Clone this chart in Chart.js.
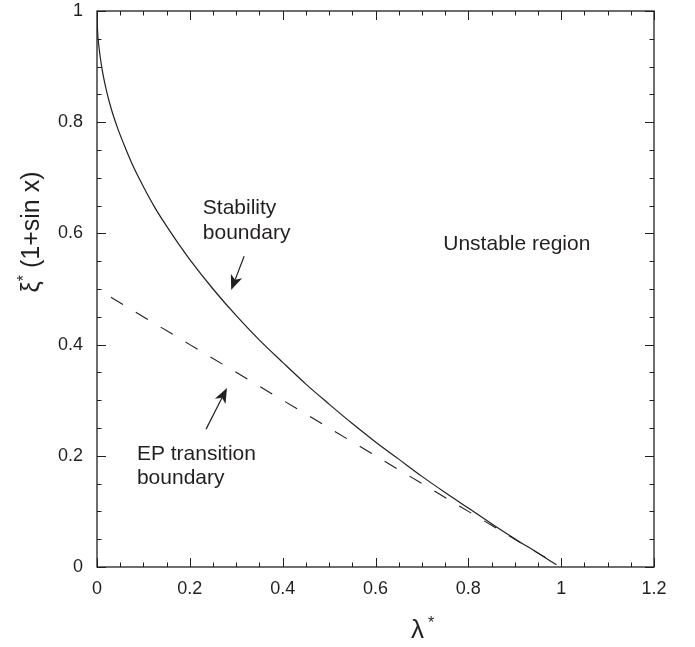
<!DOCTYPE html>
<html>
<head>
<meta charset="utf-8">
<script src="https://cdn.jsdelivr.net/npm/chart.js@4.4.0/dist/chart.umd.min.js"></script>
<style>
  body { margin: 0; background: #fff; }
  canvas { display: block; }
</style>
</head>
<body>
<canvas id="phaseChart" width="695" height="647"></canvas>
<script>
// values
let stabLambda = [0, 0.001, 0.004, 0.01, 0.02, 0.03, 0.045, 0.06, 0.08, 0.1, 0.125, 0.15, 0.175, 0.2, 0.25, 0.3, 0.35, 0.4, 0.45, 0.5, 0.55, 0.6, 0.65, 0.7, 0.75, 0.8, 0.85, 0.9, 0.95, 0.99];
let stabXi     = [1, 0.968, 0.937, 0.90, 0.858, 0.826, 0.788, 0.756, 0.717, 0.684, 0.646, 0.613, 0.582, 0.553, 0.50, 0.452, 0.408, 0.368, 0.329, 0.293, 0.258, 0.225, 0.194, 0.163, 0.134, 0.106, 0.078, 0.051, 0.025, 0.004];
let epLambda = [0.03, 0.2, 0.4, 0.6, 0.8, 0.99];
let epXi     = [0.485, 0.40, 0.30, 0.20, 0.10, 0.005];
let xTickLabels = ['0', '0.2', '0.4', '0.6', '0.8', '1', '1.2'];
let yTickLabels = ['0', '0.2', '0.4', '0.6', '0.8', '1'];

let ink = '#231f20';
let fontFam = '"Liberation Sans", Arial, sans-serif';

function toPoints(xs, ys) {
    let pts = [];
    for (let i = 0; i < xs.length; i++) {
        pts.push({x: xs[i], y: ys[i]});
    }
    return pts;
}

// frame, inward ticks on all sides, annotations and axis titles
let extras = {
    id: 'extras',
    afterDatasetsDraw(chart) {
        let ctx = chart.ctx;
        let a = chart.chartArea;
        let xs = chart.scales.x;
        let ys = chart.scales.y;
        ctx.save();
        ctx.strokeStyle = ink;
        ctx.lineWidth = 1.3;
        ctx.strokeRect(a.left, a.top, a.right - a.left, a.bottom - a.top);

        ctx.lineWidth = 1;
        ctx.beginPath();
        for (let i = 0; i <= 24; i++) {
            let px = Math.round(xs.getPixelForValue(i * 0.05)) + 0.5;
            let len = (i % 4 === 0) ? 9 : 4.5;
            ctx.moveTo(px, a.bottom); ctx.lineTo(px, a.bottom - len);
            ctx.moveTo(px, a.top); ctx.lineTo(px, a.top + len);
        }
        for (let i = 0; i <= 20; i++) {
            let py = Math.round(ys.getPixelForValue(i * 0.05)) + 0.5;
            let len = (i % 4 === 0) ? 9 : 4.5;
            ctx.moveTo(a.left, py); ctx.lineTo(a.left + len, py);
            ctx.moveTo(a.right, py); ctx.lineTo(a.right - len, py);
        }
        ctx.stroke();

        // arrows
        function arrow(x1, y1, x2, y2) {
            let p1x = xs.getPixelForValue(x1), p1y = ys.getPixelForValue(y1);
            let p2x = xs.getPixelForValue(x2), p2y = ys.getPixelForValue(y2);
            let ang = Math.atan2(p2y - p1y, p2x - p1x);
            let hl = 15, hw = 6;
            let bx = p2x - hl * Math.cos(ang), by = p2y - hl * Math.sin(ang);
            ctx.beginPath();
            ctx.moveTo(p1x, p1y);
            ctx.lineTo(bx + 4 * Math.cos(ang), by + 4 * Math.sin(ang));
            ctx.lineWidth = 1.2;
            ctx.stroke();
            ctx.beginPath();
            ctx.moveTo(p2x, p2y);
            ctx.lineTo(bx + hw * Math.sin(ang), by - hw * Math.cos(ang));
            ctx.lineTo(bx + 4 * Math.cos(ang), by + 4 * Math.sin(ang));
            ctx.lineTo(bx - hw * Math.sin(ang), by + hw * Math.cos(ang));
            ctx.closePath();
            ctx.fillStyle = ink;
            ctx.fill();
        }
        arrow(0.317, 0.559, 0.289, 0.498);
        arrow(0.235, 0.248, 0.280, 0.322);

        ctx.fillStyle = ink;
        ctx.font = '21px ' + fontFam;
        ctx.textAlign = 'left';
        ctx.textBaseline = 'alphabetic';
        function label(txt, x, y) {
            ctx.fillText(txt, xs.getPixelForValue(x), ys.getPixelForValue(y));
        }
        label('Stability', 0.228, 0.635);
        label('boundary', 0.228, 0.590);
        label('Unstable region', 0.746, 0.570);
        label('EP transition', 0.086, 0.192);
        label('boundary', 0.086, 0.149);

        // x title: lambda*
        ctx.font = '26px ' + fontFam;
        ctx.fillText('λ', 411, 638);
        ctx.font = '16px ' + fontFam;
        ctx.fillText('*', 428, 628);

        // y title: xi* (1+sin x), rotated
        ctx.translate(39, 232);
        ctx.rotate(-Math.PI / 2);
        ctx.font = '25px ' + fontFam;
        let w1 = ctx.measureText('ξ').width;
        let w3 = ctx.measureText(' (1+sin x)').width;
        ctx.font = '16px ' + fontFam;
        let w2 = ctx.measureText('*').width;
        let total = w1 + w2 + w3;
        let sx = -total / 2;
        ctx.font = '25px ' + fontFam;
        ctx.fillText('ξ', sx, 0);
        ctx.font = '16px ' + fontFam;
        ctx.fillText('*', sx + w1, -10);
        ctx.font = '25px ' + fontFam;
        ctx.fillText(' (1+sin x)', sx + w1 + w2, 0);
        ctx.restore();
    }
};

let chartCtx = document.getElementById('phaseChart').getContext('2d');
let phaseChart = new Chart(chartCtx, {
    type: 'scatter',
    data: {
        datasets: [
            {
                label: 'Stability boundary',
                data: toPoints(stabLambda, stabXi),
                showLine: true,
                borderColor: ink,
                borderWidth: 1.2,
                pointRadius: 0,
                cubicInterpolationMode: 'monotone'
            },
            {
                label: 'EP transition boundary',
                data: toPoints(epLambda, epXi),
                showLine: true,
                borderColor: ink,
                borderWidth: 1.1,
                borderDash: [14, 15],
                pointRadius: 0
            }
        ]
    },
    options: {
        responsive: false,
        animation: false,
        devicePixelRatio: 1,
        layout: { padding: { left: 0, top: 11, right: 41, bottom: 0 } },
        plugins: {
            legend: { display: false },
            tooltip: { enabled: false }
        },
        scales: {
            x: {
                type: 'linear',
                min: 0,
                max: 1.2,
                grid: { display: false, drawTicks: false },
                border: { display: false },
                afterFit: function (s) {
                    s.height = 80;
                    s.paddingLeft = 0;
                    s.paddingRight = 0;
                },
                ticks: {
                    stepSize: 0.2,
                    padding: 11,
                    color: ink,
                    font: { family: fontFam, size: 18 },
                    callback: function (v) {
                        let i = Math.round(v / 0.2);
                        return xTickLabels[i];
                    }
                }
            },
            y: {
                type: 'linear',
                min: 0,
                max: 1,
                grid: { display: false, drawTicks: false },
                border: { display: false },
                afterFit: function (s) {
                    s.width = 97;
                    s.paddingTop = 0;
                    s.paddingBottom = 0;
                },
                ticks: {
                    stepSize: 0.2,
                    padding: 14,
                    color: ink,
                    font: { family: fontFam, size: 18 },
                    callback: function (v) {
                        let i = Math.round(v / 0.2);
                        return yTickLabels[i];
                    }
                }
            }
        }
    },
    plugins: [extras]
});
</script>
</body>
</html>
